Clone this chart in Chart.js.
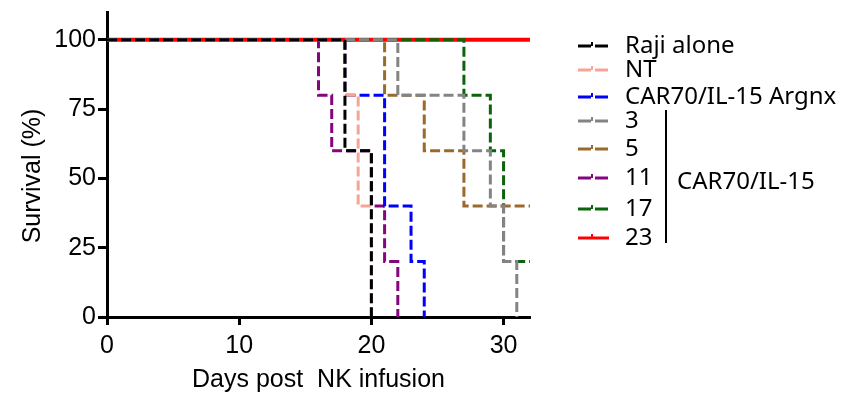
<!DOCTYPE html>
<html>
<head>
<meta charset="utf-8">
<script src="https://cdn.jsdelivr.net/npm/chart.js@4.4.0/dist/chart.umd.min.js"></script>
<style>
  html, body { margin: 0; padding: 0; background: #fff; }
  #wrap { width: 853px; height: 394px; position: relative; }
</style>
</head>
<body>
<div id="wrap"><canvas id="chart"></canvas></div>
<script>
// Kaplan-Meier steps: day where the curve drops, survival (%) after the drop
const rajiDays  = [0, 18, 20];
const rajiSurv  = [100, 60, 0];
const ntDays    = [0, 18, 19, 20];
const ntSurv    = [100, 80, 40, 0];
const argnxDays = [0, 18, 21, 23, 24];
const argnxSurv = [100, 80, 40, 20, 0];
const d3Days    = [0, 22, 27, 29, 30, 31];
const d3Surv    = [100, 80, 60, 40, 20, 0];
const d5Days    = [0, 21, 24, 27, 32];
const d5Surv    = [100, 80, 60, 40, 40];
const d11Days   = [0, 16, 17, 20, 21, 22];
const d11Surv   = [100, 80, 60, 40, 20, 0];
const d17Days   = [0, 27, 29, 30, 32];
const d17Surv   = [100, 80, 60, 20, 20];
const d23Days   = [0, 32];
const d23Surv   = [100, 100];

const seriesLabels = ['Raji alone', 'NT', 'CAR70/IL-15 Argnx', '3', '5', '11', '17', '23'];
const groupLabel = 'CAR70/IL-15';
const xTicks = [0, 10, 20, 30];
const yTicks = [0, 25, 50, 75, 100];

const colors = ['#000000', '#f7a593', '#0000ff', '#848484', '#9a6a2c', '#83067f', '#0b640b', '#ff0000'];
const allDays = [rajiDays, ntDays, argnxDays, d3Days, d5Days, d11Days, d17Days, d23Days];
const allSurv = [rajiSurv, ntSurv, argnxSurv, d3Surv, d5Surv, d11Surv, d17Surv, d23Surv];

const toPoints = (days, surv) => days.map((d, i) => ({x: d, y: surv[i]}));

const datasets = seriesLabels.map((label, i) => ({
	label: label,
	data: toPoints(allDays[i], allSurv[i]),
	borderColor: colors[i],
	backgroundColor: colors[i],
	borderWidth: i === 7 ? 4 : 3,
	borderDash: i === 7 ? [] : [10, 4],
	stepped: true,
	pointRadius: 0,
	fill: false,
}));

const axisFont = {family: "'Liberation Sans', Arial, sans-serif", size: 25};
const legendFont = "24px 'Noto Sans', sans-serif";

const sideLegend = {
	id: 'sideLegend',
	afterDraw: (chart) => {
		const ctx = chart.ctx;
		const rowY = [46, 70, 97, 121, 149, 178, 209, 238];
		ctx.save();
		// y axis title
		ctx.fillStyle = '#000';
		ctx.font = "25px 'Liberation Sans', Arial, sans-serif";
		ctx.textAlign = 'center';
		ctx.textBaseline = 'middle';
		ctx.translate(33, 176);
		ctx.rotate(-Math.PI / 2);
		ctx.fillText('Survival (%)', 0, 0);
		ctx.restore();

		ctx.save();
		ctx.font = legendFont;
		ctx.textBaseline = 'middle';
		ctx.textAlign = 'left';
		chart.data.datasets.forEach((ds, i) => {
			const y = rowY[i];
			ctx.strokeStyle = ds.borderColor;
			ctx.lineWidth = 3;
			ctx.setLineDash(ds.borderDash.length ? [13, 4] : []);
			ctx.beginPath();
			ctx.moveTo(578, y);
			ctx.lineTo(609, y);
			ctx.stroke();
			ctx.setLineDash([]);
			ctx.lineWidth = 2;
			ctx.beginPath();
			ctx.moveTo(592, y);
			ctx.lineTo(592, y - 4);
			ctx.stroke();
			ctx.fillStyle = '#000';
			ctx.fillText(ds.label, 625, y);
		});
		// bracket for the CAR70/IL-15 group
		ctx.strokeStyle = '#000';
		ctx.lineWidth = 2;
		ctx.beginPath();
		ctx.moveTo(666, 110);
		ctx.lineTo(666, 243);
		ctx.stroke();
		ctx.fillText(groupLabel, 677, 182);
		ctx.restore();
	}
};

const ctx = document.getElementById('chart').getContext('2d');

const chart = new Chart(ctx, {
	type: 'line',
	data: {datasets: datasets},
	plugins: [sideLegend],
	options: {
		responsive: true,
		maintainAspectRatio: false,
		animation: false,
		layout: {padding: {left: 0, top: 12, right: 323, bottom: 0}},
		scales: {
			x: {
				type: 'linear',
				min: 0,
				max: 32,
				afterBuildTicks: (scale) => { scale.ticks = xTicks.map(v => ({value: v})); },
				afterFit: (scale) => {
					scale.height = 77;
					scale.paddingLeft = 0;
					scale.paddingRight = 0;
				},
				border: {display: true, color: '#000', width: 3},
				grid: {drawOnChartArea: false, drawTicks: true, tickLength: 8, tickWidth: 3, tickColor: '#000', color: '#000'},
				ticks: {color: '#000', font: axisFont, padding: 6, maxRotation: 0, autoSkip: false},
				title: {
					display: true,
					text: 'Days post  NK infusion',
					color: '#000',
					font: {family: axisFont.family, size: 25, lineHeight: 1},
					padding: {top: 0, bottom: 1},
				},
			},
			y: {
				type: 'linear',
				min: 0,
				max: 110,
				afterBuildTicks: (scale) => { scale.ticks = yTicks.map(v => ({value: v})); },
				afterFit: (scale) => {
					scale.width = 107;
					scale.paddingTop = 0;
					scale.paddingBottom = 0;
				},
				border: {display: true, color: '#000', width: 3},
				grid: {drawOnChartArea: false, drawTicks: true, tickLength: 9, tickWidth: 3, tickColor: '#000', color: '#000'},
				ticks: {color: '#000', font: axisFont, padding: 2, autoSkip: false},
			}
		},
		plugins: {
			legend: {display: false},
			title: {display: false},
			tooltip: {enabled: false},
		},
	}
});
</script>
</body>
</html>
